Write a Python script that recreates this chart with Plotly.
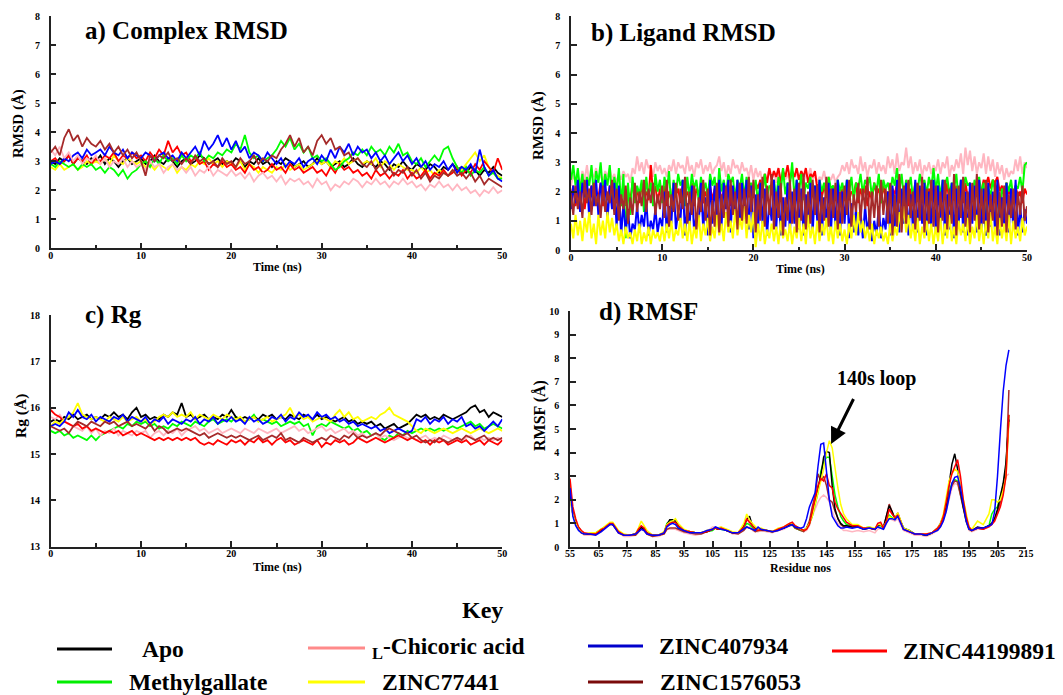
import plotly.graph_objects as go

W, H = 1063, 695
FONT = "Liberation Serif"


def PX(x):
    return x / W


def PY(y):
    return 1 - y / H


# ---------------- data ----------------
series_names = ["Apo", "L-Chicoric acid", "ZINC407934", "ZINC44199891",
                "Methylgallate", "ZINC77441", "ZINC1576053"]
colors = {"Apo": "#000000", "L-Chicoric acid": "#ffb6c1", "ZINC407934": "#0000ff",
          "ZINC44199891": "#ff0000", "Methylgallate": "#00ff00", "ZINC77441": "#ffff00",
          "ZINC1576053": "#a52a2a"}
key_colors = {"Apo": "#000000", "L-Chicoric acid": "#ff8a8a", "ZINC407934": "#0000cc",
              "ZINC44199891": "#ff0000", "Methylgallate": "#00ee00", "ZINC77441": "#ffff00",
              "ZINC1576053": "#7a0a0a"}

time_ac = [i * 0.5 for i in range(101)]   # ns
time_b = [i * 0.25 for i in range(201)]   # ns

# a) Complex RMSD (Å)
rmsd_apo = [3.0,2.9,3.1,3.0,3.2,2.9,3.1,3.0,2.9,3.1,
            3.0,3.2,2.9,3.1,3.0,2.8,3.0,3.1,2.9,3.0,
            3.1,2.9,3.0,3.2,3.0,2.9,3.1,3.0,2.8,3.0,
            3.1,2.9,3.0,3.2,3.1,2.9,3.0,3.1,2.9,3.0,
            2.9,3.1,3.0,2.8,3.0,2.9,3.1,2.9,3.0,2.8,
            3.0,2.9,3.1,3.0,2.8,2.9,3.0,2.8,2.9,3.1,
            2.9,3.0,2.8,2.9,3.0,2.8,2.9,3.1,2.9,2.8,
            3.0,2.9,2.8,3.0,2.9,2.7,2.9,2.8,3.0,2.8,
            2.7,2.9,2.8,2.7,2.9,2.8,2.6,2.8,2.7,2.9,
            2.7,2.8,2.6,2.8,2.7,2.5,2.7,2.6,2.8,2.6,
            2.5]
rmsd_chicoric = [3.4,3.2,3.5,3.1,3.3,3.0,3.2,2.9,3.1,3.0,
                 3.2,2.9,3.1,2.8,3.0,2.9,3.1,2.8,3.0,2.8,
                 2.9,2.7,3.0,2.8,2.9,2.6,2.8,2.9,2.7,2.8,
                 2.6,2.8,2.5,2.7,2.6,2.8,2.5,2.7,2.6,2.5,
                 2.7,2.5,2.6,2.4,2.6,2.3,2.5,2.6,2.4,2.5,
                 2.3,2.5,2.2,2.4,2.3,2.4,2.2,2.3,2.1,2.4,
                 2.2,2.3,2.0,2.2,2.1,2.3,2.2,2.4,2.3,2.1,
                 2.3,2.2,2.4,2.2,2.3,2.1,2.3,2.2,2.4,2.2,
                 2.3,2.1,2.2,2.0,2.2,2.1,2.3,2.1,2.2,2.0,
                 2.2,2.0,2.1,1.9,2.0,1.8,2.0,1.9,2.1,1.9,
                 2.0]
rmsd_407934 = [2.9,3.0,2.9,3.1,3.0,3.2,3.3,3.1,3.4,3.2,
               3.3,3.4,3.2,3.5,3.3,3.2,3.4,3.1,3.3,3.2,
               3.1,3.3,3.2,3.0,3.2,3.3,3.1,3.2,3.0,3.3,
               3.1,3.3,3.5,3.2,3.7,3.4,3.6,3.9,3.5,3.8,
               3.4,3.7,3.3,3.5,3.1,3.3,3.2,3.0,3.3,3.1,
               2.9,3.1,2.8,3.0,2.9,3.1,2.8,3.0,3.1,2.9,
               3.2,3.0,3.4,3.1,3.5,3.3,3.6,3.2,3.5,3.3,
               3.4,3.1,3.3,3.0,3.2,2.9,3.1,3.3,3.0,3.2,
               2.9,3.1,2.8,3.0,2.7,2.9,2.8,3.0,2.7,2.9,
               2.6,2.8,2.7,2.9,2.6,3.4,2.8,2.5,2.7,2.4,
               2.3]
rmsd_44199891 = [3.0,3.1,2.9,3.0,3.2,2.9,3.1,3.0,3.2,2.9,
                 3.1,3.0,3.2,3.1,3.3,3.0,3.2,3.1,3.3,3.1,
                 3.2,3.0,3.3,3.1,3.4,3.2,3.7,3.3,3.5,3.2,
                 3.3,3.0,3.1,2.9,3.0,2.7,2.9,2.8,3.0,2.8,
                 2.9,2.7,2.8,2.6,2.9,2.7,2.8,2.6,2.7,2.9,
                 2.7,2.8,2.6,2.9,2.7,2.8,2.6,2.7,2.8,2.6,
                 2.7,2.5,2.8,2.6,2.9,2.7,2.8,2.6,2.7,2.5,
                 2.6,2.4,2.7,2.5,2.6,2.4,2.6,2.5,2.7,2.4,
                 2.6,2.4,2.5,2.7,2.4,2.6,2.5,2.7,2.5,2.6,
                 2.8,2.5,2.7,2.6,2.9,2.7,3.0,2.8,2.6,3.1,
                 2.7]
rmsd_methylgallate = [2.9,2.8,3.0,2.9,2.8,2.9,2.7,2.9,2.8,2.9,
                      2.7,2.8,2.6,2.8,2.7,2.5,2.7,2.4,2.6,2.7,
                      2.9,3.0,2.8,3.1,2.9,3.2,3.0,3.1,2.9,3.2,
                      3.0,3.2,3.1,3.3,3.0,3.2,3.1,3.3,3.2,3.4,
                      3.3,3.6,3.4,3.9,3.3,3.1,3.2,3.0,3.1,3.2,
                      3.4,3.7,3.5,3.8,3.4,3.6,3.3,3.5,3.1,3.2,
                      3.0,3.1,2.9,2.7,2.8,3.0,3.1,3.3,3.2,3.4,
                      3.2,3.5,3.3,3.4,3.2,3.5,3.3,3.6,3.2,3.3,
                      3.0,2.9,3.1,2.8,3.0,3.2,3.0,3.4,3.5,3.1,
                      2.8,2.6,2.8,2.5,2.7,2.6,2.8,2.5,2.6,2.4,
                      2.4]
rmsd_77441 = [2.8,2.7,2.9,2.7,2.8,2.9,2.7,2.8,3.0,2.9,
              3.0,2.9,3.1,2.9,3.2,3.0,2.9,3.1,3.0,2.9,
              3.0,2.8,2.9,2.7,2.9,2.8,2.7,2.9,2.6,2.8,
              2.7,2.9,2.8,3.0,2.9,3.1,2.9,3.0,2.8,3.0,
              2.9,2.8,3.0,2.7,2.9,2.8,2.6,2.8,2.7,2.6,
              2.8,2.7,2.9,2.7,2.8,2.9,2.7,2.8,2.9,3.0,
              2.9,3.0,2.8,3.0,2.9,3.1,2.9,3.0,3.1,2.9,
              3.0,2.9,3.1,2.8,3.0,2.9,2.7,2.9,2.8,2.7,
              2.7,2.6,2.8,2.6,2.7,2.5,2.7,2.6,2.5,2.7,
              2.6,2.7,2.9,3.1,3.3,3.0,3.2,2.8,2.6,2.5,
              2.4]
rmsd_1576053 = [3.3,3.5,3.2,3.8,4.1,3.7,3.9,3.5,3.8,3.6,
                3.5,3.7,3.4,3.6,3.3,3.5,3.2,3.4,3.1,3.3,
                3.0,2.5,3.2,3.0,3.2,3.1,3.3,3.0,3.1,2.9,
                3.1,2.9,3.2,3.0,3.1,2.9,3.0,2.8,3.1,2.9,
                3.0,2.8,3.1,2.9,3.0,3.2,2.9,3.1,3.0,3.2,
                3.1,3.4,3.6,3.9,3.5,3.8,3.3,3.5,3.2,3.7,
                3.9,3.6,3.8,3.4,3.5,3.2,3.3,3.0,3.1,2.9,
                2.8,3.0,2.7,2.9,2.6,2.8,2.5,2.7,2.6,2.8,
                2.5,2.7,2.4,2.6,2.3,2.5,2.4,2.6,2.5,2.7,
                2.5,2.6,2.4,2.6,2.3,2.5,2.2,2.4,2.3,2.2,
                2.1]

# b) Ligand RMSD (Å), no Apo
lig_chicoric = [2.2,2.6,2.3,2.5,2.2,2.7,2.4,2.9,2.3,2.6,2.5,2.8,2.4,2.6,2.3,2.7,2.5,2.8,2.4,2.6,
                2.3,2.6,2.4,2.7,2.5,2.6,2.3,2.8,2.6,3.2,2.7,3.0,2.6,3.1,2.8,2.9,2.5,3.0,2.7,2.9,
                2.6,2.8,2.5,2.9,2.7,3.1,2.6,3.0,2.8,2.9,2.6,3.2,2.7,2.9,2.5,3.0,2.8,3.1,2.6,2.9,
                2.7,3.0,2.6,2.8,2.9,3.2,2.7,3.0,2.5,2.9,2.6,3.1,2.8,2.9,2.6,3.0,2.7,2.8,2.5,2.9,
                2.4,2.8,2.5,2.7,2.3,2.6,2.5,2.8,2.4,2.7,2.3,2.6,2.5,2.8,2.4,2.6,2.3,2.7,2.5,2.6,
                2.4,2.7,2.3,2.6,2.5,2.8,2.4,2.6,2.3,2.5,2.4,2.7,2.3,2.5,2.4,2.6,2.3,2.5,2.6,2.9,
                2.7,3.0,2.6,3.1,2.8,2.9,2.6,3.2,2.7,3.0,2.5,2.9,2.8,3.1,2.6,3.0,2.7,2.9,2.6,3.2,
                2.8,3.1,2.6,3.3,2.7,3.0,2.9,3.5,2.8,3.2,2.6,3.0,2.7,3.1,2.5,2.9,2.7,3.0,2.6,2.9,
                2.7,3.1,2.6,3.0,2.8,3.2,2.5,2.9,2.7,3.1,2.8,3.3,2.6,3.5,2.9,3.4,2.7,3.2,2.6,3.0,
                2.8,3.3,2.6,3.2,2.7,3.1,2.5,3.0,2.6,2.9,2.4,2.8,2.5,2.7,2.6,3.1,2.7,3.2,2.6,3.0,
                2.8]
lig_407934 = [1.4,2.2,1.6,2.4,1.3,2.3,1.8,2.4,1.1,2.2,1.5,2.4,1.2,2.3,1.7,2.4,1.0,2.2,1.4,2.3,
              0.8,2.2,0.5,1.6,0.6,1.4,0.4,0.9,0.7,1.5,0.6,1.2,0.8,1.7,0.5,1.0,0.7,1.4,0.6,1.1,
              0.8,2.0,0.6,1.5,0.9,2.3,0.7,1.3,1.0,2.4,0.5,1.6,0.8,2.2,0.6,1.2,0.9,2.3,0.7,1.8,
              0.5,2.4,0.9,2.2,1.2,2.4,0.8,2.3,1.4,2.4,0.6,2.2,1.1,2.4,0.9,2.3,1.3,2.4,0.7,2.2,
              0.4,1.9,0.6,2.3,0.9,2.1,0.5,1.7,1.0,2.4,0.7,2.2,0.5,1.8,0.8,2.3,0.6,2.0,0.9,2.4,
              0.7,2.1,0.5,1.9,0.8,2.3,0.6,2.2,1.0,2.4,0.5,1.8,0.9,2.3,0.6,2.1,0.8,2.4,0.5,2.0,
              0.9,2.4,0.4,1.6,0.6,1.4,0.5,1.3,0.4,1.5,0.6,1.2,0.3,1.0,0.5,1.5,0.4,1.1,0.7,2.0,
              0.5,2.2,0.8,2.4,0.6,2.1,0.9,2.3,0.5,1.9,0.7,2.4,0.6,2.2,0.9,2.3,0.5,2.0,0.8,2.4,
              0.6,2.2,0.9,2.4,0.5,1.9,0.7,2.3,0.4,2.1,0.8,2.4,0.6,2.0,0.5,2.3,0.9,2.2,0.6,2.4,
              0.7,2.1,0.5,2.3,0.8,2.0,0.6,2.4,0.5,1.8,0.9,2.3,0.6,2.1,0.7,2.4,0.5,1.5,0.6,1.4,
              0.9]
lig_44199891 = [1.8,2.2,1.5,2.0,1.7,2.3,1.4,2.1,1.9,2.2,1.6,2.0,1.8,2.3,1.5,2.1,1.7,2.2,1.9,2.0,
                1.6,2.1,1.8,2.2,1.5,2.0,1.7,2.3,1.9,2.1,1.6,2.2,1.8,2.0,1.7,2.9,1.9,2.2,1.6,2.1,
                1.8,2.2,1.5,2.0,1.7,2.3,1.9,2.1,1.6,2.2,1.8,2.0,1.7,2.3,1.5,2.1,1.9,2.2,1.6,2.0,
                1.8,2.2,1.7,2.1,1.9,2.3,1.6,2.0,1.8,2.2,1.5,2.1,1.7,2.3,1.9,2.0,1.6,2.2,1.8,2.1,
                1.9,2.3,2.1,2.4,2.0,2.6,2.3,2.8,2.4,2.7,2.5,2.8,2.3,2.7,2.5,2.9,2.4,2.7,2.5,2.8,
                2.4,2.7,2.5,2.8,2.3,2.6,2.5,2.7,2.1,2.3,1.8,2.2,1.9,2.1,1.7,2.2,1.8,2.0,1.6,2.1,
                1.8,2.2,1.7,2.0,1.9,2.3,1.6,2.1,1.8,2.2,1.5,2.0,1.7,2.3,1.9,2.1,1.6,2.2,1.8,2.0,
                1.7,2.1,1.9,2.3,1.6,2.0,1.8,2.2,1.5,2.1,1.7,2.3,1.9,2.0,1.6,2.2,1.8,2.1,1.7,2.0,
                1.9,2.2,1.6,2.1,1.8,2.3,1.5,2.0,1.7,2.2,1.9,2.1,1.6,2.3,1.8,2.0,1.7,2.2,1.9,2.1,
                2.0,2.4,2.2,2.5,2.1,2.4,2.3,2.5,2.0,2.2,1.8,2.3,1.9,2.1,1.7,2.2,1.8,2.0,1.6,2.1,
                1.9]
lig_methylgallate = [2.4,2.9,2.2,2.8,2.0,2.6,1.8,2.5,2.2,2.9,1.9,2.7,2.3,3.0,2.0,2.6,2.2,2.9,1.7,2.5,
                     2.0,2.8,1.5,2.6,0.4,2.3,1.2,2.5,1.6,2.2,1.9,2.4,1.3,2.5,1.8,2.3,1.5,2.6,2.0,2.4,
                     1.6,2.5,2.0,2.7,1.4,2.4,1.9,2.6,2.2,2.4,1.5,2.5,1.8,2.6,2.1,2.4,1.7,2.5,2.0,2.3,
                     1.8,2.6,2.2,2.5,1.6,2.8,2.0,2.4,1.9,2.6,2.3,2.5,1.7,2.4,2.1,2.6,1.8,2.5,2.0,2.3,
                     1.9,2.4,1.6,2.3,2.0,2.6,1.8,2.2,2.1,2.4,1.7,2.5,2.0,2.8,1.9,2.3,2.2,3.0,1.8,2.4,
                     2.0,2.6,1.7,2.3,2.1,2.5,1.9,2.2,1.6,2.4,2.0,2.3,1.8,2.5,2.1,2.2,1.7,2.4,2.0,2.3,
                     1.8,2.4,2.0,2.5,1.7,2.3,2.1,2.6,1.9,2.4,2.2,2.5,1.8,2.3,2.0,2.6,1.6,2.4,2.1,2.3,
                     1.9,2.5,2.2,2.8,2.0,2.6,1.8,2.4,2.1,2.5,1.7,2.3,2.0,2.6,2.2,2.4,1.9,2.5,2.1,2.8,
                     2.0,2.6,1.8,2.4,2.2,2.5,1.9,2.3,2.1,2.6,1.7,2.4,2.0,2.5,2.2,2.3,1.8,2.4,2.1,2.5,
                     1.9,2.3,0.5,2.2,1.8,2.4,2.0,2.2,0.6,2.1,1.9,2.3,2.0,2.4,1.8,2.2,2.1,2.5,2.0,2.9,
                     3.0]
lig_77441 = [0.9,0.4,1.2,0.5,1.0,0.3,1.1,0.6,1.3,0.4,0.9,0.2,1.2,0.5,1.0,0.4,1.3,0.6,1.1,0.5,
             0.9,0.3,0.7,0.2,0.8,0.4,0.6,0.2,0.7,0.3,0.9,0.2,0.6,0.3,0.8,0.2,0.7,0.4,0.6,0.3,
             0.8,0.3,0.9,0.4,1.0,0.3,0.7,0.5,1.1,0.4,0.9,0.3,1.0,0.2,0.8,0.4,1.2,0.3,0.9,0.5,
             1.1,0.3,0.8,0.4,1.2,0.5,0.9,0.3,1.3,0.6,1.0,0.4,1.4,0.5,1.1,0.7,1.5,0.4,1.2,0.6,
             1.3,0.1,0.9,0.3,1.0,0.2,0.7,0.4,0.9,0.3,0.8,0.2,1.0,0.4,0.7,0.3,0.9,0.2,0.8,0.4,
             1.1,0.3,0.9,0.2,1.2,0.4,0.8,0.2,1.0,0.3,0.9,0.5,1.1,0.3,0.8,0.2,1.0,0.4,0.9,0.3,
             0.7,0.2,0.9,0.4,1.2,0.5,1.3,0.6,1.0,0.4,0.8,0.3,0.9,0.2,0.7,0.4,0.8,0.3,0.6,0.2,
             0.9,0.3,0.8,0.5,1.3,0.7,1.5,0.6,1.2,0.4,0.9,0.3,1.1,0.2,0.8,0.4,1.0,0.3,0.9,0.2,
             0.8,0.3,1.1,0.2,0.9,0.4,1.2,0.3,0.8,0.2,1.0,0.5,0.9,0.3,1.1,0.2,0.8,0.4,1.2,0.3,
             0.9,0.2,1.0,0.4,1.3,0.3,0.8,0.2,1.1,0.4,0.9,0.3,1.2,0.2,1.0,0.4,0.8,0.3,1.1,0.5,
             0.8]
lig_1576053 = [1.9,1.2,2.2,1.4,2.0,1.1,2.4,1.6,2.1,1.2,2.3,1.5,1.9,1.1,2.2,1.3,2.0,1.6,2.4,1.2,
               2.1,1.0,1.9,1.4,2.2,0.9,1.8,1.2,2.3,1.3,2.0,1.5,2.4,1.3,2.1,1.6,2.3,1.2,1.9,1.4,
               2.2,1.1,2.4,0.8,1.9,1.3,2.3,1.0,2.1,1.4,2.5,0.9,2.0,1.2,2.2,0.7,1.8,1.3,2.4,1.0,
               2.1,0.5,1.7,0.8,2.3,0.6,1.9,1.1,2.2,0.8,2.4,1.2,2.0,0.7,2.3,1.0,2.1,0.9,2.5,1.3,
               2.4,0.6,1.9,1.0,2.5,0.8,2.2,1.2,2.6,0.7,2.0,1.1,2.3,0.5,1.8,1.0,2.4,0.9,2.1,0.6,
               2.3,1.0,2.6,0.7,2.0,0.9,2.4,1.2,2.2,0.6,1.9,1.0,2.5,0.8,2.1,1.1,2.3,0.7,2.0,0.9,
               2.2,1.2,2.4,0.8,1.9,1.3,2.3,1.0,2.1,1.4,2.5,0.7,2.0,1.1,2.2,0.8,2.4,1.2,2.1,0.9,
               2.3,0.5,1.9,0.8,2.6,0.6,2.2,0.9,2.4,1.1,2.0,0.7,2.3,1.0,2.5,0.6,2.1,0.9,2.4,0.8,
               2.2,0.6,2.0,1.0,2.4,0.7,2.1,0.9,2.6,0.5,2.2,1.1,2.5,0.8,2.0,0.6,2.3,1.0,2.6,0.7,
               2.1,0.9,2.4,0.6,1.9,1.0,2.3,0.5,2.0,0.8,2.2,0.6,1.9,1.1,2.1,0.7,2.0,1.2,2.2,1.0,
               1.5]

# c) Rg (Å)
rg_apo = [15.7,15.75,15.7,15.8,15.75,15.85,15.75,15.8,15.85,15.75,
          15.8,15.75,15.85,15.8,15.9,15.8,15.85,15.75,15.9,16.0,
          15.8,15.85,15.75,15.8,15.75,15.85,15.8,15.9,15.85,16.1,
          15.8,15.85,15.75,15.8,15.85,15.75,15.8,15.75,15.85,15.8,
          15.95,15.8,15.75,15.8,15.75,15.8,15.75,15.85,15.8,15.85,
          15.75,15.8,15.75,15.85,15.8,15.75,15.85,15.8,15.75,15.85,
          15.75,15.8,15.75,15.7,15.75,15.8,15.7,15.75,15.65,15.7,
          15.65,15.7,15.6,15.65,15.55,15.6,15.65,15.55,15.6,15.65,
          15.75,15.85,15.8,15.85,15.75,15.8,15.75,15.85,15.8,15.75,
          15.8,15.85,15.9,16.0,16.05,15.9,15.95,15.8,15.9,15.85,
          15.8]
rg_chicoric = [15.8,15.75,15.85,15.7,15.65,15.6,15.55,15.5,15.6,15.45,
               15.55,15.4,15.5,15.45,15.55,15.4,15.5,15.45,15.4,15.5,
               15.45,15.5,15.35,15.45,15.5,15.4,15.5,15.45,15.55,15.4,
               15.5,15.55,15.6,15.5,15.55,15.45,15.5,15.55,15.45,15.5,
               15.55,15.5,15.45,15.55,15.5,15.45,15.55,15.5,15.45,15.5,
               15.55,15.45,15.5,15.55,15.6,15.5,15.55,15.45,15.5,15.55,
               15.6,15.5,15.55,15.45,15.5,15.55,15.45,15.5,15.4,15.45,
               15.35,15.4,15.45,15.35,15.4,15.35,15.3,15.35,15.4,15.35,
               15.35,15.3,15.35,15.4,15.3,15.35,15.3,15.4,15.35,15.3,
               15.35,15.3,15.35,15.4,15.3,15.35,15.3,15.35,15.3,15.35,
               15.3]
rg_407934 = [15.6,15.65,15.6,15.7,15.9,15.8,15.95,15.8,15.75,15.85,
             15.7,15.8,15.75,15.7,15.8,15.75,15.85,15.7,15.8,15.75,
             15.7,15.8,15.65,15.75,15.7,15.8,15.65,15.75,15.7,15.65,
             15.75,15.7,15.8,15.65,15.75,15.7,15.8,15.65,15.75,15.7,
             15.8,15.7,15.75,15.65,15.8,15.7,15.75,15.65,15.7,15.8,
             15.75,15.85,15.7,15.8,15.75,15.9,15.8,15.85,15.75,15.9,
             15.8,15.85,15.75,15.8,15.7,15.75,15.65,15.7,15.6,15.65,
             15.6,15.55,15.6,15.5,15.55,15.45,15.5,15.55,15.5,15.45,
             15.5,15.75,15.7,15.8,15.65,15.75,15.7,15.8,15.65,15.75,
             15.7,15.8,15.6,15.65,15.55,15.6,15.5,15.6,15.7,15.6,
             15.75]
rg_44199891 = [15.95,15.85,15.8,15.7,15.65,15.6,15.65,15.55,15.6,15.5,
               15.55,15.5,15.45,15.5,15.45,15.5,15.4,15.45,15.5,15.4,
               15.45,15.4,15.35,15.3,15.35,15.3,15.35,15.3,15.35,15.3,
               15.35,15.3,15.35,15.25,15.2,15.25,15.2,15.3,15.25,15.2,
               15.3,15.25,15.3,15.2,15.3,15.25,15.35,15.25,15.3,15.2,
               15.3,15.35,15.25,15.3,15.2,15.25,15.3,15.25,15.2,15.3,
               15.15,15.25,15.2,15.3,15.25,15.3,15.2,15.25,15.35,15.3,
               15.25,15.3,15.35,15.3,15.25,15.3,15.35,15.4,15.35,15.3,
               15.35,15.3,15.25,15.3,15.2,15.3,15.25,15.3,15.2,15.25,
               15.3,15.25,15.3,15.2,15.25,15.3,15.2,15.3,15.25,15.2,
               15.3]
rg_methylgallate = [15.5,15.45,15.5,15.4,15.45,15.35,15.4,15.35,15.3,15.4,
                    15.3,15.4,15.45,15.5,15.55,15.6,15.55,15.65,15.6,15.7,
                    15.65,15.7,15.6,15.65,15.55,15.6,15.55,15.65,15.6,15.7,
                    15.65,15.6,15.7,15.65,15.6,15.7,15.75,15.65,15.7,15.75,
                    15.7,15.8,15.75,15.7,15.75,15.85,15.7,15.75,15.7,15.65,
                    15.7,15.6,15.65,15.7,15.65,15.7,15.6,15.65,15.4,15.6,
                    15.65,15.6,15.7,15.65,15.6,15.55,15.6,15.5,15.55,15.45,
                    15.5,15.4,15.45,15.35,15.3,15.4,15.35,15.45,15.4,15.5,
                    15.45,15.5,15.55,15.5,15.55,15.5,15.55,15.5,15.55,15.6,
                    15.55,15.6,15.65,15.7,15.6,15.65,15.55,15.6,15.65,15.6,
                    15.55]
rg_77441 = [15.6,15.7,15.65,15.75,15.8,15.9,16.1,15.85,15.8,15.75,
            15.8,15.75,15.7,15.8,15.75,15.7,15.8,15.7,15.75,15.8,
            15.7,15.75,15.65,15.7,15.8,15.85,15.8,15.9,15.8,15.85,
            15.8,15.9,15.75,15.85,15.8,15.75,15.85,15.8,15.75,15.85,
            15.8,15.75,15.8,15.7,15.75,15.8,15.7,15.75,15.8,15.7,
            15.75,15.8,15.85,16.0,15.8,15.85,15.75,15.8,15.7,15.75,
            15.8,15.75,15.7,15.85,15.95,15.8,15.9,15.75,15.8,15.7,
            15.75,15.8,15.75,15.85,15.9,16.0,15.85,15.8,15.75,15.7,
            15.6,15.5,15.45,15.55,15.5,15.45,15.5,15.55,15.5,15.45,
            15.5,15.55,15.5,15.45,15.5,15.55,15.5,15.45,15.5,15.55,
            15.5]
rg_1576053 = [15.6,15.55,15.5,15.55,15.45,15.6,15.7,15.65,15.6,15.7,
              15.65,15.6,15.7,15.65,15.7,15.6,15.65,15.7,15.6,15.65,
              15.6,15.55,15.65,15.5,15.6,15.55,15.45,15.5,15.55,15.5,
              15.55,15.5,15.45,15.4,15.45,15.35,15.4,15.45,15.4,15.35,
              15.4,15.35,15.4,15.35,15.3,15.35,15.4,15.3,15.35,15.4,
              15.35,15.45,15.3,15.35,15.3,15.25,15.35,15.3,15.25,15.3,
              15.35,15.3,15.4,15.35,15.3,15.4,15.35,15.45,15.35,15.4,
              15.35,15.4,15.45,15.4,15.5,15.55,15.5,15.45,15.4,15.45,
              15.35,15.4,15.3,15.25,15.3,15.25,15.35,15.3,15.25,15.3,
              15.35,15.3,15.4,15.35,15.3,15.35,15.4,15.3,15.35,15.3,
              15.35]

# d) RMSF (Å) per residue
residues = [55,56,57,58,59,60, 62,64,66,67,69,70, 72,74,76,78,79,80,
            81,82,84,86,88,89, 90,91,92,93,95,97, 99,101,103,105,106,107,
            108,110,112,114,116,117, 118,119,120,121,122,124, 126,128,130,132,133,134,
            136,137,138,139,140,141, 142,143,144,145,146,147, 148,149,150,151,152,154,
            156,158,160,162,163,164, 165,166,167,168,169,170, 172,174,176,178,180,182,
            184,185,186,187,188,189, 190,191,192,193,194,195, 196,198,200,202,203,204,
            205,206,207,208,209]
rmsf_apo = [2.2,1.4,1.0,0.8,0.65,0.55, 0.55,0.55,0.7,0.8,1.0,0.95, 0.65,0.5,0.5,0.55,0.7,0.85,
            0.75,0.6,0.5,0.5,0.6,0.95, 1.15,1.15,1.1,0.9,0.7,0.65, 0.6,0.6,0.65,0.75,0.8,0.75,
            0.8,0.7,0.6,0.6,0.9,1.15, 1.3,0.9,0.8,0.75,0.75,0.7, 0.65,0.75,0.8,0.95,0.95,0.85,
            0.75,0.7,0.8,1.0,1.4,1.9, 2.4,3.0,3.8,4.05,4.0,2.6, 1.6,1.2,1.0,0.9,0.9,0.85,
            0.9,0.75,0.8,0.75,0.9,0.95, 0.85,1.3,1.75,1.5,1.2,1.4, 0.8,0.7,0.55,0.55,0.5,0.6,
            0.8,1.0,1.3,1.8,2.6,3.5, 3.95,3.3,2.4,1.7,1.2,0.8, 0.7,0.85,0.8,0.9,1.0,1.2,
            1.6,2.1,2.7,3.6,5.4]
rmsf_chicoric = [2.0,1.4,1.0,0.8,0.6,0.5, 0.5,0.5,0.65,0.75,0.95,0.95, 0.6,0.45,0.45,0.5,0.6,0.75,
                 0.7,0.55,0.45,0.45,0.55,0.75, 0.75,0.75,0.75,0.7,0.6,0.55, 0.5,0.55,0.65,0.85,0.85,0.8,
                 0.85,0.7,0.55,0.55,0.75,1.3, 0.9,0.7,0.65,0.65,0.7,0.65, 0.6,0.7,0.75,0.9,0.9,0.8,
                 0.7,0.65,0.7,0.9,1.3,1.6, 1.9,2.1,2.2,2.1,1.9,1.5, 1.2,1.0,0.8,0.7,0.7,0.65,
                 0.7,0.65,0.7,0.6,0.75,0.8, 0.75,1.0,1.2,1.15,1.1,1.2, 0.7,0.6,0.5,0.5,0.45,0.55,
                 0.7,0.85,1.1,1.5,2.0,2.5, 2.7,2.65,2.2,1.6,1.1,0.7, 0.65,0.75,0.75,0.85,0.95,1.1,
                 1.4,1.8,2.3,3.0,3.1]
rmsf_407934 = [2.5,1.3,0.9,0.7,0.6,0.55, 0.55,0.5,0.65,0.75,0.95,0.95, 0.6,0.5,0.5,0.55,0.65,0.75,
               0.7,0.55,0.5,0.5,0.6,0.85, 0.95,1.0,0.95,0.8,0.7,0.6, 0.6,0.6,0.7,0.75,0.85,0.8,
               0.75,0.7,0.6,0.6,0.75,0.85, 0.8,0.75,0.7,0.85,0.75,0.7, 0.65,0.7,0.8,0.9,0.95,0.85,
               0.8,0.85,1.2,1.7,2.0,2.3, 3.4,4.35,4.4,3.3,2.0,1.3, 1.1,0.9,0.8,0.8,0.85,0.8,
               0.85,0.75,0.8,0.75,0.85,0.8, 0.75,1.0,1.2,1.2,1.15,1.3, 0.75,0.65,0.55,0.55,0.5,0.6,
               0.7,0.85,1.1,1.5,2.1,2.7, 2.95,3.0,2.5,1.8,1.1,0.75, 0.7,0.8,0.8,0.9,0.95,1.5,
               3.0,4.9,6.6,7.7,8.35]
rmsf_44199891 = [2.9,1.7,1.2,0.85,0.7,0.6, 0.55,0.55,0.75,0.8,1.0,1.0, 0.65,0.5,0.5,0.55,0.75,0.9,
                 0.8,0.6,0.5,0.5,0.6,0.9, 1.0,1.05,1.05,0.9,0.7,0.65, 0.6,0.6,0.65,0.75,0.8,0.75,
                 0.8,0.7,0.6,0.6,0.85,1.2, 1.05,0.9,0.75,0.7,0.75,0.7, 0.65,0.75,0.85,1.0,1.05,0.9,
                 0.75,0.7,0.75,0.95,1.5,2.0, 2.6,2.9,2.8,3.1,2.6,2.5, 1.9,1.6,1.4,1.2,1.05,0.9,
                 0.9,0.8,0.8,0.75,1.0,1.05, 0.8,1.1,1.6,1.4,1.25,1.35, 0.75,0.65,0.55,0.55,0.55,0.6,
                 0.8,0.95,1.3,1.9,2.6,3.1, 3.4,3.7,3.0,2.0,1.3,0.85, 0.7,0.8,0.75,0.85,0.95,1.1,
                 1.4,1.7,2.2,3.0,5.6]
rmsf_methylgallate = [2.6,1.5,1.0,0.8,0.65,0.55, 0.55,0.6,0.75,0.85,1.0,1.0, 0.65,0.5,0.5,0.55,0.7,0.85,
                      0.75,0.6,0.5,0.5,0.6,1.0, 1.1,1.1,1.05,0.85,0.7,0.65, 0.6,0.6,0.65,0.7,0.8,0.75,
                      0.75,0.7,0.6,0.6,0.8,1.0, 0.95,0.8,0.7,0.7,0.75,0.7, 0.65,0.75,0.8,0.95,0.95,0.8,
                      0.7,0.7,0.8,1.0,1.3,1.8, 2.3,3.2,3.6,3.8,3.8,3.0, 2.2,1.7,1.3,1.1,0.95,0.9,
                      0.9,0.8,0.85,0.75,0.9,0.9, 0.8,1.1,1.35,1.25,1.2,1.4, 0.8,0.7,0.55,0.55,0.5,0.6,
                      0.75,0.9,1.2,1.7,2.3,2.7, 2.85,2.8,2.3,1.7,1.1,0.75, 0.7,0.8,0.8,0.9,1.4,1.6,
                      1.7,2.1,2.6,3.4,5.6]
rmsf_77441 = [2.0,1.4,1.0,0.8,0.65,0.55, 0.6,0.6,0.75,0.85,1.05,1.05, 0.7,0.55,0.5,0.55,0.8,1.1,
              0.9,0.7,0.5,0.5,0.65,0.95, 1.05,1.1,1.2,1.0,0.75,0.65, 0.6,0.6,0.7,0.75,0.8,0.8,
              0.85,0.75,0.65,0.6,1.0,1.4, 1.15,1.0,0.85,0.75,0.8,0.7, 0.65,0.8,0.85,1.0,1.0,0.9,
              0.75,0.7,0.8,1.0,1.3,1.8, 2.2,2.8,3.3,4.0,4.5,4.2, 3.3,2.5,1.8,1.4,1.2,0.95,
              0.95,0.8,0.85,0.8,0.95,0.95, 0.85,1.1,1.3,1.2,1.25,1.45, 0.8,0.7,0.55,0.55,0.55,0.6,
              0.8,1.0,1.4,2.1,2.8,3.1, 3.3,3.2,2.6,1.9,1.3,0.85, 0.75,1.1,0.95,1.4,2.0,2.0,
              1.9,2.0,2.4,3.0,5.3]
rmsf_1576053 = [2.4,1.5,1.0,0.8,0.6,0.55, 0.55,0.55,0.7,0.8,0.95,0.95, 0.6,0.5,0.5,0.5,0.65,0.8,
                0.7,0.55,0.45,0.5,0.55,0.75, 0.8,0.8,0.8,0.75,0.65,0.6, 0.55,0.55,0.65,0.75,0.8,0.75,
                0.8,0.7,0.6,0.55,0.7,0.85, 0.8,0.75,0.65,0.7,0.7,0.7, 0.65,0.7,0.8,0.9,0.95,0.8,
                0.7,0.65,0.8,1.1,1.7,2.2, 3.1,2.8,3.0,2.6,2.0,1.9, 1.5,1.2,0.95,0.85,0.9,0.85,
                0.85,0.75,0.8,0.75,0.95,0.95, 0.8,1.3,1.82,1.5,1.2,1.45, 0.75,0.65,0.55,0.55,0.5,0.6,
                0.75,0.9,1.2,1.6,2.2,2.6, 2.8,2.75,2.2,1.6,1.1,0.75, 0.7,0.8,0.75,0.9,1.0,1.2,
                1.5,1.9,2.5,3.3,6.65]

for arr in [rmsd_apo, rmsd_chicoric, rmsd_407934, rmsd_44199891, rmsd_methylgallate, rmsd_77441,
            rmsd_1576053, rg_apo, rg_chicoric, rg_407934, rg_44199891, rg_methylgallate, rg_77441,
            rg_1576053]:
    assert len(arr) == len(time_ac), len(arr)
for arr in [lig_chicoric, lig_407934, lig_44199891, lig_methylgallate, lig_77441, lig_1576053]:
    assert len(arr) == len(time_b), len(arr)
for arr in [rmsf_apo, rmsf_chicoric, rmsf_407934, rmsf_44199891, rmsf_methylgallate, rmsf_77441,
            rmsf_1576053]:
    assert len(arr) == len(residues), len(arr)

# ---------------- figure ----------------
fig = go.Figure()


def add(x, y, name, axis, width):
    fig.add_trace(go.Scatter(x=x, y=y, mode="lines", name=name, showlegend=False,
                             line=dict(color=colors[name], width=width),
                             xaxis="x" + axis, yaxis="y" + axis))


panel_a = {"Apo": rmsd_apo, "ZINC77441": rmsd_77441, "ZINC44199891": rmsd_44199891,
           "Methylgallate": rmsd_methylgallate, "ZINC407934": rmsd_407934,
           "L-Chicoric acid": rmsd_chicoric, "ZINC1576053": rmsd_1576053}
for n, v in panel_a.items():
    add(time_ac, v, n, "", 1.8)

panel_b = {"L-Chicoric acid": lig_chicoric, "ZINC44199891": lig_44199891,
           "Methylgallate": lig_methylgallate, "ZINC407934": lig_407934,
           "ZINC77441": lig_77441, "ZINC1576053": lig_1576053}
for n, v in panel_b.items():
    add(time_b, v, n, "2", 2.0)

panel_c = {"Methylgallate": rg_methylgallate, "Apo": rg_apo, "L-Chicoric acid": rg_chicoric,
           "ZINC44199891": rg_44199891, "ZINC77441": rg_77441,
           "ZINC407934": rg_407934, "ZINC1576053": rg_1576053}
for n, v in panel_c.items():
    add(time_ac, v, n, "3", 1.8)

panel_d = {"L-Chicoric acid": rmsf_chicoric, "Methylgallate": rmsf_methylgallate,
           "ZINC1576053": rmsf_1576053, "Apo": rmsf_apo, "ZINC77441": rmsf_77441,
           "ZINC44199891": rmsf_44199891, "ZINC407934": rmsf_407934}
for n, v in panel_d.items():
    add(residues, v, n, "4", 1.5)

AX = "#222222"
tickfont = dict(family=FONT, size=10, color="black", weight="bold")


def axis(domain, rng, dtick, tick0=0, minor=None, anchor=None, standoff=4):
    d = dict(domain=domain, range=rng, dtick=dtick, tick0=tick0, showline=True, linecolor=AX,
             linewidth=1.5, ticks="inside", ticklen=6, tickwidth=1.5, tickcolor=AX,
             showgrid=False, zeroline=False, tickfont=tickfont, anchor=anchor,
             ticklabelstandoff=standoff, fixedrange=True, automargin=False)
    if minor:
        d["minor"] = dict(dtick=minor, ticks="inside", ticklen=3.5, tickwidth=1.5,
                          tickcolor=AX, showgrid=False)
    return d


fig.update_layout(
    width=W, height=H, autosize=False, margin=dict(l=0, r=0, t=0, b=0, pad=0),
    paper_bgcolor="white", plot_bgcolor="white",
    xaxis=axis([PX(50.7), PX(502.3)], [0, 50], 10, minor=5, anchor="y", standoff=-3),
    yaxis=axis([PY(248.3), PY(16)], [0, 8], 1, anchor="x", standoff=7),
    xaxis2=axis([PX(571), PX(1027)], [0, 50], 10, minor=5, anchor="y2", standoff=-3),
    yaxis2=axis([PY(250), PY(16)], [0, 8], 1, anchor="x2", standoff=7),
    xaxis3=axis([PX(50.7), PX(502.3)], [0, 50], 10, minor=5, anchor="y3", standoff=-3),
    yaxis3=axis([PY(546.7), PY(315)], [13, 18], 1, tick0=13, anchor="x3", standoff=7),
    xaxis4=axis([PX(570), PX(1026)], [55, 215], 10, tick0=55, anchor="y4", standoff=-4),
    yaxis4=axis([PY(547), PY(311)], [0, 10], 1, anchor="x4", standoff=7),
)


def note(text, x, y, size, xanchor="center", angle=0):
    fig.add_annotation(text="<b>" + text + "</b>", x=PX(x), y=PY(y), xref="paper", yref="paper",
                       xanchor=xanchor, yanchor="middle", showarrow=False, textangle=angle,
                       font=dict(family=FONT, size=size, color="black"))


# panel titles
note("a) Complex RMSD", 83, 31, 25, "left")
note("b) Ligand RMSD", 589, 33, 25, "left")
note("c) Rg", 83, 315, 25, "left")
note("d) RMSF", 597, 312, 25, "left")
# axis titles
note("RMSD (Å)", 19, 124, 15, angle=-90)
note("Time (ns)", 277, 267, 12)
note("RMSD (Å)", 538, 126, 15, angle=-90)
note("Time (ns)", 800, 269, 12)
note("Rg (Å)", 21, 416, 15.5, angle=-90)
note("Time (ns)", 277, 567, 12)
note("RMSF (Å)", 540, 416, 16, angle=-90)
note("Residue nos", 800, 568, 12)

# 140s loop label + arrow
note("140s loop", 876, 378, 20)
fig.add_annotation(x=146.6, y=4.36, ax=155, ay=6.4, xref="x4", yref="y4", axref="x4", ayref="y4",
                   text=" ", showarrow=True, arrowhead=2, arrowsize=1.1, arrowwidth=3,
                   arrowcolor="black", font=dict(size=2))

# key
note("Key", 482, 610, 24)
key_items = [("Apo", 57, 112, 140, 649, "Apo"),
             ("L-Chicoric acid", 308, 365, 370, 648, "<sub>L</sub>-Chicoric acid"),
             ("ZINC407934", 588, 643, 657, 646, "ZINC407934"),
             ("ZINC44199891", 832, 887, 901, 651, "ZINC44199891"),
             ("Methylgallate", 57, 112, 127, 682, "Methylgallate"),
             ("ZINC77441", 308, 365, 380, 682, "ZINC77441"),
             ("ZINC1576053", 588, 643, 658, 682, "ZINC1576053")]
for name, x0, x1, tx, yy, label in key_items:
    fig.add_shape(type="line", xref="paper", yref="paper", x0=PX(x0), x1=PX(x1),
                  y0=PY(yy), y1=PY(yy), line=dict(color=key_colors[name], width=3))
    note(label, tx, yy, 23.5, "left")

fig.write_html("out.html", config={"displayModeBar": False},
               post_script="document.body.style.margin='0px';document.body.style.overflow='hidden';")
